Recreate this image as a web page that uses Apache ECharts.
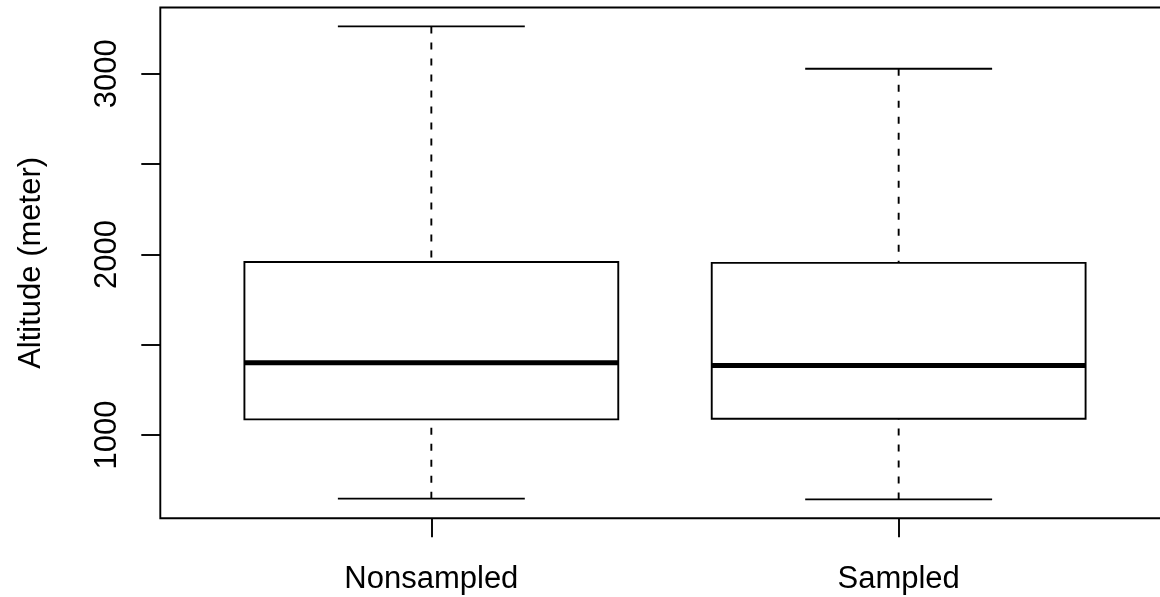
<!DOCTYPE html>
<html>
<head>
<meta charset="utf-8">
<style>
  html, body { margin: 0; padding: 0; background: #fff; }
  #chart { width: 1160px; height: 597px; }
</style>
<script src="https://cdn.jsdelivr.net/npm/echarts@6/dist/echarts.min.js"></script>
</head>
<body>
<div id="chart"></div>
<script>
// Five-number summaries of altitude per group
const groups = ['Nonsampled', 'Sampled'];
const lowerWhisker = [648, 644];
const lowerQuartile = [1087, 1090];
const medians = [1400, 1385];
const upperQuartile = [1958, 1953];
const upperWhisker = [3262, 3028];

// Axis ticks
const yTickValues = [1000, 1500, 2000, 2500, 3000];
const yLabelValues = [1000, 2000, 3000];
const yTitle = 'Altitude (meter)';

const FONT = '"Liberation Sans", Arial, Helvetica, sans-serif';
const LW = 1.9;

// Value range padded by 4% on both sides, as base R does
const lo = Math.min.apply(null, lowerWhisker);
const hi = Math.max.apply(null, upperWhisker);
const pad = (hi - lo) * 0.04;

const rows = groups.map((g, i) => [i + 1, lowerWhisker[i], lowerQuartile[i], medians[i], upperQuartile[i], upperWhisker[i]]);

const HALF_BOX = 0.4;
const HALF_CAP = 0.2;

function renderBox(params, api) {
  const x = api.value(0);
  const yLo = api.coord([x, api.value(1)])[1];
  const yQ1 = api.coord([x, api.value(2)])[1];
  const yMed = api.coord([x, api.value(3)])[1];
  const yQ3 = api.coord([x, api.value(4)])[1];
  const yHi = api.coord([x, api.value(5)])[1];
  const cx = api.coord([x, 0])[0];
  const xl = api.coord([x - HALF_BOX, 0])[0];
  const xr = api.coord([x + HALF_BOX, 0])[0];
  const cl = api.coord([x - HALF_CAP, 0])[0];
  const cr = api.coord([x + HALF_CAP, 0])[0];
  const thin = { stroke: '#000', lineWidth: LW };
  const dashed = { stroke: '#000', lineWidth: LW, lineDash: [7, 9] };
  return {
    type: 'group',
    children: [
      { type: 'line', shape: { x1: cx, y1: yHi, x2: cx, y2: yQ3 }, style: dashed },
      { type: 'line', shape: { x1: cx, y1: yLo, x2: cx, y2: yQ1 }, style: dashed },
      { type: 'line', shape: { x1: cl, y1: yHi, x2: cr, y2: yHi }, style: thin },
      { type: 'line', shape: { x1: cl, y1: yLo, x2: cr, y2: yLo }, style: thin },
      { type: 'rect', shape: { x: xl, y: yQ3, width: xr - xl, height: yQ1 - yQ3 },
        style: { fill: '#fff', stroke: '#000', lineWidth: LW } },
      { type: 'line', shape: { x1: xl, y1: yMed, x2: xr, y2: yMed },
        style: { stroke: '#000', lineWidth: 5, lineCap: 'butt' } }
    ]
  };
}

const chart = echarts.init(document.getElementById('chart'), null, { renderer: 'canvas' });
chart.setOption({
  animation: false,
  backgroundColor: '#fff',
  grid: {
    left: 160.3, top: 7.5, width: 1009.4, height: 510.8,
    outerBoundsMode: 'none',
    containLabel: false,
    show: true, borderColor: '#000', borderWidth: LW, backgroundColor: 'transparent'
  },
  xAxis: {
    type: 'value',
    min: 0.42, max: 2.58,
    axisLine: { show: false },
    splitLine: { show: false },
    axisTick: { show: true, length: 19, customValues: groups.map((g, i) => i + 1),
      lineStyle: { color: '#000', width: LW } },
    axisLabel: {
      customValues: groups.map((g, i) => i + 1),
      formatter: v => groups[Math.round(v) - 1] || '',
      color: '#000', fontSize: 31, fontFamily: FONT, margin: 46
    }
  },
  yAxis: {
    type: 'value',
    min: lo - pad, max: hi + pad,
    name: yTitle,
    nameLocation: 'middle',
    nameRotate: 90,
    nameGap: 113,
    nameTextStyle: { color: '#000', fontSize: 31, fontFamily: FONT },
    axisLine: { show: false },
    splitLine: { show: false },
    axisTick: { show: true, length: 19, customValues: yTickValues,
      lineStyle: { color: '#000', width: LW } },
    axisLabel: {
      customValues: yLabelValues,
      formatter: v => String(v),
      rotate: 90,
      color: '#000', fontSize: 31, fontFamily: FONT, margin: 37
    }
  },
  series: [{
    type: 'custom',
    renderItem: renderBox,
    encode: { x: 0, y: [1, 2, 3, 4, 5] },
    data: rows,
    clip: false
  }]
});
</script>
</body>
</html>
